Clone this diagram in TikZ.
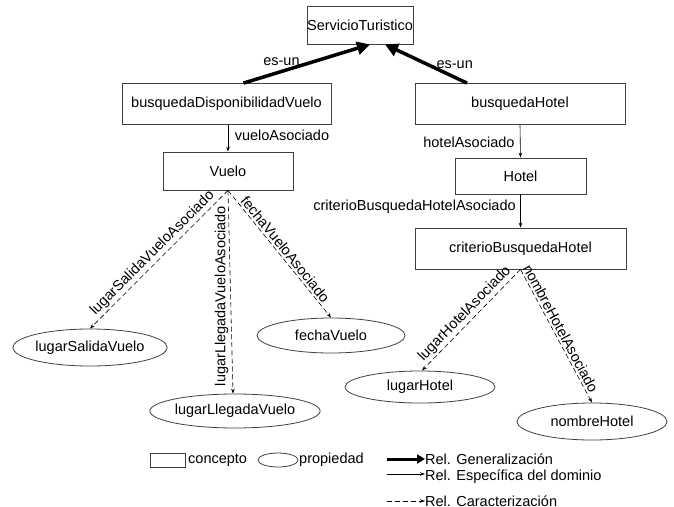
\documentclass[tikz,border=0pt]{standalone}
\usepackage{fontspec}
\setmainfont{Liberation Sans}
\usetikzlibrary{arrows.meta,shapes.geometric,calc}
\begin{document}
\begin{tikzpicture}[x=1pt,y=-1pt,
  font=\fontsize{14.5}{17}\selectfont,
  concept/.style={draw=black!75, line width=0.8pt, rectangle, inner sep=0pt},
  prop/.style={draw=black!75, line width=0.8pt, ellipse, inner sep=0pt},
  gen/.style={line width=3.5pt, -{Triangle[length=13pt,width=13pt]}},
  rel/.style={line width=0.6pt, -{Stealth[length=5pt,width=3.5pt]}},
  car/.style={line width=0.6pt, dash pattern=on 5pt off 3pt, -{Stealth[length=5pt,width=3.5pt]}},
  lbl/.style={inner sep=1.5pt},
  slbl/.style={sloped, above, inner sep=2pt},
  legtxt/.style={anchor=west, inner sep=0pt}
]
\useasboundingbox (0,0) rectangle (674,506);

% concepts
\node[concept, minimum width=104pt, minimum height=38pt] (st) at (360,25) {ServicioTuristico};
\node[concept, minimum width=209pt, minimum height=41pt] (bdv) at (226.5,104) {busquedaDisponibilidadVuelo};
\node[concept, minimum width=210pt, minimum height=41pt] (bh) at (520,104) {busquedaHotel};
\node[concept, minimum width=130pt, minimum height=38pt] (vuelo) at (228,171) {Vuelo};
\node[concept, minimum width=131pt, minimum height=36pt] (hotel) at (520.5,176) {Hotel};
\node[concept, minimum width=211pt, minimum height=41pt] (cbh) at (520.5,248.5) {criterioBusquedaHotel};

% properties
\node[prop, minimum width=146pt, minimum height=37pt] (lsv) at (90,347.5) {lugarSalidaVuelo};
\node[prop, minimum width=150pt, minimum height=34pt] (llv) at (235,411) {lugarLlegadaVuelo};
\node[prop, minimum width=148pt, minimum height=35pt] (fv) at (331,335.5) {fechaVuelo};
\node[prop, minimum width=150pt, minimum height=32pt] (lh) at (420,387) {lugarHotel};
\node[prop, minimum width=150pt, minimum height=37pt] (nh) at (592,421.5) {nombreHotel};

% generalization
\draw[gen] ([xshift=17pt]bdv.north) -- node[pos=0.3, above=3pt, lbl] {es-un} ([xshift=10pt]st.south);
\draw[gen] ([xshift=-53pt]bh.north) -- node[pos=0.15, above=5pt, lbl] {es-un} ([xshift=25pt]st.south);

% domain relations
\draw[rel] (vuelo.north |- bdv.south) -- node[pos=0.4, right=5pt, lbl] {vueloAsociado} (vuelo.north);
\draw[rel] (bh.south) -- node[pos=0.52, left=4pt, lbl] {hotelAsociado} (hotel.north);
\draw[rel] (hotel.south) -- node[pos=0.38, left=3pt, lbl] {criterioBusquedaHotelAsociado} (cbh.north);

% characterization
\draw[car] (vuelo.south) -- node[slbl] {lugarSalidaVueloAsociado} (lsv.north);
\draw[car] (vuelo.south) -- node[pos=0.52, rotate=90, anchor=south, inner sep=2pt] {lugarLlegadaVueloAsociado} ([xshift=-2pt]llv.north);
\draw[car] (vuelo.south) -- node[slbl] {fechaVueloAsociado} (fv.north);
\draw[car] (cbh.south) -- node[slbl] {lugarHotelAsociado} ([xshift=2pt]lh.north);
\draw[car] (cbh.south) -- node[slbl, pos=0.47] {nombreHotelAsociado} (nh.north);

% legend
\node[concept, minimum width=35pt, minimum height=14pt] (lc) at (167.5,460) {};
\node[legtxt] (lct) at (188,460) {concepto};
\node[prop, minimum width=40pt, minimum height=14pt] (lp) at (278,460) {};
\node[legtxt] (lpt) at (299,460) {propiedad};
\coordinate (g1) at (387,459);
\node[legtxt] (gt) at (425,459) {Rel. Generalización};
\draw[line width=3pt, -{Triangle[length=8pt,width=9pt]}] (g1) -- (gt.west);
\coordinate (r1) at (387,474);
\node[legtxt] (rt) at (425,477) {Rel. Específica del dominio};
\draw[rel] (r1) -- (rt.west |- r1);
\coordinate (c1) at (387,501);
\node[legtxt] (ct) at (425,501) {Rel. Caracterización};
\draw[car] (c1) -- (ct.west |- c1);
\end{tikzpicture}
\end{document}
